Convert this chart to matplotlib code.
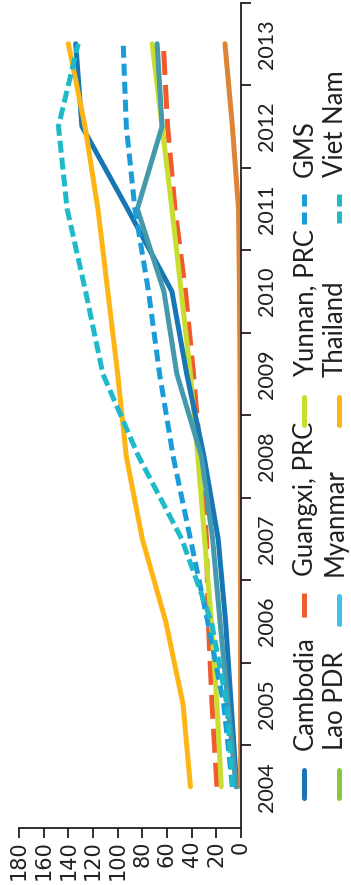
import matplotlib.pyplot as plt
import numpy as np

# Mobile subscriptions per 100 people
years = [2004, 2005, 2006, 2007, 2008, 2009, 2010, 2011, 2012, 2013]
cambodia = [3.5, 8, 12.5, 18.5, 30, 44, 56, 92, 129, 134]
guangxi = [19.5, 23.5, 26.5, 28, 33, 38.5, 45, 53.5, 59.5, 63]
yunnan = [16, 19.5, 24, 29.5, 35, 41, 48.5, 56, 64, 72]
gms = [7, 14, 27, 41, 55, 66, 75, 86, 93, 95.5]
lao_pdr = [4, 10.5, 17, 23, 32, 52, 62.5, 84, 64, 68]
myanmar = [0.2, 0.3, 0.4, 0.4, 0.5, 0.8, 1.2, 2, 7, 13]
thailand = [41, 47, 61, 80, 93, 100, 108, 116, 126.5, 140]
viet_nam = [6.5, 11.5, 24, 48, 83, 112, 126, 141, 148, 132]

value_ticks = [0, 20, 40, 60, 80, 100, 120, 140, 160, 180]

# legend layout: rows of (left column, right column)
legend_rows = [("Cambodia", "Lao PDR"), ("Guangxi, PRC", "Myanmar"),
               ("Yunnan, PRC", "Thailand"), ("GMS", "Viet Nam")]

PX = 0.72  # points per pixel at 100 dpi
plt.rcParams['lines.scale_dashes'] = False

# name: (values, line colour, legend colour, dash pattern in px)
series = {
    "Guangxi, PRC": (guangxi, "#f15a2b", "#f15a2b", (24, 10)),
    "Yunnan, PRC": (yunnan, "#c8dc32", "#c8dc32", None),
    "Cambodia": (cambodia, "#1777b4", "#1a75b5", None),
    "Lao PDR": (lao_pdr, "#4599ad", "#8cc63f", None),
    "GMS": (gms, "#1a9cd8", "#1a9cd8", (12, 6)),
    "Thailand": (thailand, "#fdb515", "#fdb515", None),
    "Viet Nam": (viet_nam, "#1fbac9", "#1fbac9", (12, 5)),
    "Myanmar": (myanmar, "#dd8437", "#3ec1ee", None),
}

dark = "#231f20"
lw = 5 * PX

fig = plt.figure(figsize=(3.51, 8.85), dpi=100)
ax = fig.add_axes([19 / 351, 1 - 828 / 885, 222 / 351, 825.5 / 885])

for name, (vals, col, _, dash) in series.items():
    if dash is None:
        ax.plot(vals, years, color=col, lw=lw, solid_capstyle='round',
                solid_joinstyle='round')
    else:
        ax.plot(vals, years, color=col, lw=lw,
                linestyle=(0, (dash[0] * PX, dash[1] * PX)),
                dash_capstyle='butt', dash_joinstyle='round')

ax.set_xlim(180, 0)
ax.set_ylim(2003.5, 2013.5)

for s in ['left', 'top']:
    ax.spines[s].set_visible(False)
for s in ['right', 'bottom']:
    ax.spines[s].set_color(dark)
    ax.spines[s].set_linewidth(1.3)

# value axis (bottom)
ax.set_xticks(value_ticks)
ax.set_xticklabels([str(v) for v in value_ticks], rotation=90,
                   fontfamily='DejaVu Sans', fontsize=15, color=dark)
ax.tick_params(axis='x', length=7, width=1.3, color=dark, pad=2)

# year axis (right): boundary ticks, centred labels
ax.yaxis.tick_right()
ax.set_yticks(np.arange(2004.5, 2014, 1))
ax.set_yticklabels([])
ax.tick_params(axis='y', which='major', length=7, width=1.3, color=dark)
ax.set_yticks(years, minor=True)
ax.set_yticklabels([str(y) for y in years], minor=True)
ax.tick_params(axis='y', which='minor', length=0, pad=11.5, right=True,
               labelright=True, labelleft=False)
for lab in ax.get_yticklabels(minor=True):
    lab.set_rotation(90)
    lab.set_ha('left')
    lab.set_va('center')
    lab.set_fontfamily('Lato')
    lab.set_fontsize(15.5)
    lab.set_color(dark)

# legend drawn by hand, rotated, in pixel coordinates
lg = fig.add_axes([0, 0, 1, 1])
lg.set_xlim(0, 351)
lg.set_ylim(885, 0)
lg.axis('off')

handle_top = [767, 593, 394, 194]
handle_x = [304, 339]
text_x = [313, 343]
for r, row in enumerate(legend_rows):
    for c, name in enumerate(row):
        _, _, lcol, dash = series[name]
        y0 = handle_top[r]
        if dash is None:
            lg.plot([handle_x[c], handle_x[c]], [y0 + 2.5, y0 + 30.5],
                    color=lcol, lw=lw, solid_capstyle='round')
        else:
            lg.plot([handle_x[c], handle_x[c]], [y0, y0 + 33], color=lcol, lw=lw,
                    linestyle=(0, (dash[0] * PX, dash[1] * PX)),
                    dash_capstyle='butt')
        lg.text(text_x[c], y0 - 17, name, rotation=90, rotation_mode='anchor',
                ha='left', va='baseline', fontfamily='Lato', fontsize=18.5,
                color=dark)

fig.savefig('out.png', dpi=100)
